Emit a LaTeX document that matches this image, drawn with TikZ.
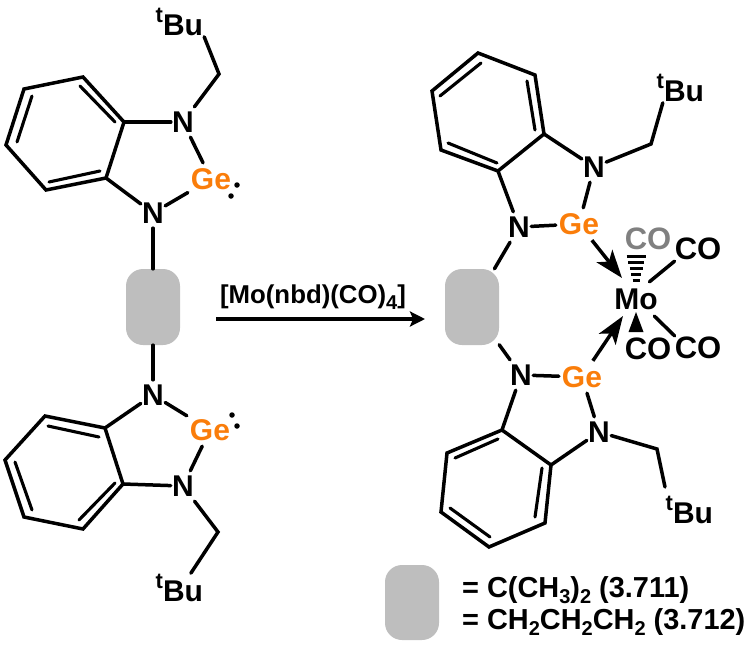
\documentclass[tikz,border=0pt]{standalone}
\usepackage{fontspec}
\setmainfont{Liberation Sans}
\usetikzlibrary{arrows.meta,calc}
\definecolor{geor}{HTML}{FA7D0A}
\definecolor{blob}{HTML}{BEBEBE}
\definecolor{cogr}{HTML}{808080}
\newcommand{\lowr}[1]{\raisebox{-0.22em}{\fontsize{20}{20}\selectfont #1}}
\newcommand{\tbu}{\llap{\raisebox{0.42em}{\fontsize{22}{22}\selectfont t}}Bu}
\tikzset{
  x=1pt,y=-1pt,
  bond/.style={line width=3.5pt,black,line cap=round,line join=miter},
  inner/.style={line width=3.1pt,black,line cap=round},
  dative/.style={line width=3.5pt,black,-{Stealth[length=28pt,width=20pt,inset=7pt]}},
  rxn/.style={line width=3.3pt,black,-{Stealth[length=15pt,width=15pt,inset=3pt]}},
  lab/.style={font=\bfseries\fontsize{30}{30}\selectfont,inner sep=0pt},
  natom/.style={lab,minimum width=24pt,minimum height=30pt},
  geatom/.style={lab,text=geor,minimum width=46pt,minimum height=32pt},
  bugrp/.style={lab,inner sep=1pt},
  colig/.style={lab,font=\bfseries\fontsize{31}{31}\selectfont,minimum width=46pt,minimum height=24pt},
  blobbox/.style={fill=blob,rounded corners=17pt,minimum width=54pt,minimum height=76pt,inner sep=0pt},
  txt/.style={font=\bfseries\fontsize{28.9}{29}\selectfont,inner sep=0pt,anchor=west},
  pair/.style={circle,fill=black,minimum size=5.5pt,inner sep=0pt},
  hash/.style={line width=3pt,black},
}
\begin{document}
\begin{tikzpicture}
\useasboundingbox (0,0) rectangle (750,645);
% ---------- left, upper unit
\node[bugrp] (buA) at (183,22) {\tbu};
\node[natom] (nA1) at (183,122) {N};
\node[geatom] (geA) at (211,179) {Ge};
\node[natom] (nA2) at (153,213) {N};
\node[blobbox] (blobA) at (153,307) {};
\node[pair] (dA1) at (237,185) {};
\node[pair] (dA2) at (231,196) {};
\coordinate (cA) at (219,74);
\coordinate (a1) at (124,122);
\coordinate (a2) at (83,77);
\coordinate (a3) at (24,89);
\coordinate (a4) at (6,145);
\coordinate (a5) at (46,190);
\coordinate (a6) at (106,178);
\coordinate (ai1) at (80,86);
\coordinate (ai2) at (115,122);
\coordinate (ai3) at (32,96);
\coordinate (ai4) at (17,142);
\coordinate (ai5) at (49,182);
\coordinate (ai6) at (100,171);
\draw[bond] (a1) -- (a2) -- (a3) -- (a4) -- (a5) -- (a6) -- cycle;
\draw[inner] (ai1) -- (ai2);
\draw[inner] (ai3) -- (ai4);
\draw[inner] (ai5) -- (ai6);
\draw[bond] (a1) -- (nA1);
\draw[bond] (a6) -- (nA2);
\draw[bond] (nA1) -- (geA);
\draw[bond] (nA2) -- (geA);
\draw[bond] (nA1) -- (cA) -- (buA.south east);
\draw[bond] (nA2) -- (blobA);
% ---------- left, lower unit
\node[natom] (nB1) at (153,395) {N};
\node[geatom] (geB) at (210,430) {Ge};
\node[natom] (nB2) at (183,486) {N};
\node[bugrp] (buB) at (183,588) {\tbu};
\node[pair] (dB1) at (232,415) {};
\node[pair] (dB2) at (237,426) {};
\coordinate (cB) at (218,532);
\coordinate (b1) at (105,428);
\coordinate (b2) at (45,416);
\coordinate (b3) at (5,460);
\coordinate (b4) at (24,517);
\coordinate (b5) at (83,529);
\coordinate (b6) at (123,484);
\coordinate (bi1) at (48,426);
\coordinate (bi2) at (99,437);
\coordinate (bi3) at (15,462);
\coordinate (bi4) at (32,510);
\coordinate (bi5) at (79,520);
\coordinate (bi6) at (115,483);
\draw[bond] (b1) -- (b2) -- (b3) -- (b4) -- (b5) -- (b6) -- cycle;
\draw[inner] (bi1) -- (bi2);
\draw[inner] (bi3) -- (bi4);
\draw[inner] (bi5) -- (bi6);
\draw[bond] (b1) -- (nB1);
\draw[bond] (b6) -- (nB2);
\draw[bond] (nB1) -- (geB);
\draw[bond] (nB2) -- (geB);
\draw[bond] (nB2) -- (cB) -- (buB.62);
\draw[bond] (blobA) -- (nB1);
% ---------- reaction arrow
\coordinate (rs) at (216,319);
\coordinate (re) at (425,319);
\draw[rxn] (rs) -- (re);
\node[font=\bfseries\fontsize{25.8}{27}\selectfont,inner sep=0pt] (rlab) at (313,297) {[Mo(nbd)(CO)\lowr{4}]};
% ---------- right, upper unit
\node[bugrp] (buC) at (684,88) {\tbu};
\node[natom] (nC1) at (594,167) {N};
\node[geatom] (geC) at (579,224) {Ge};
\node[natom] (nC2) at (519,227) {N};
\node[blobbox] (blobC) at (472,307) {};
\coordinate (cC) at (651,144);
\coordinate (c1) at (544,134);
\coordinate (c2) at (535,75);
\coordinate (c3) at (478,53);
\coordinate (c4) at (432,91);
\coordinate (c5) at (441,150);
\coordinate (c6) at (498,171);
\coordinate (ci1) at (527,81);
\coordinate (ci2) at (535,130);
\coordinate (ci3) at (448,143);
\coordinate (ci4) at (497,163);
\coordinate (ci5) at (440,96);
\coordinate (ci6) at (481,63);
\draw[bond] (c1) -- (c2) -- (c3) -- (c4) -- (c5) -- (c6) -- cycle;
\draw[inner] (ci1) -- (ci2);
\draw[inner] (ci3) -- (ci4);
\draw[inner] (ci5) -- (ci6);
\draw[bond] (c1) -- (nC1);
\draw[bond] (c6) -- (nC2);
\draw[bond] (nC1) -- (geC);
\draw[bond] (nC2) -- (geC);
\draw[bond] (nC1) -- (cC) -- (buC.south west);
\draw[bond] (nC2) -- (blobC);
% ---------- right, lower unit
\node[natom] (nD1) at (521,375) {N};
\node[geatom] (geD) at (582,377) {Ge};
\node[natom] (nD2) at (599,432) {N};
\node[bugrp] (buD) at (693,510) {\tbu};
\coordinate (cD) at (657,449);
\coordinate (eD) at (665,487);
\coordinate (d1) at (502,430);
\coordinate (d2) at (447,453);
\coordinate (d3) at (441,512);
\coordinate (d4) at (489,547);
\coordinate (d5) at (545,523);
\coordinate (d6) at (551,465);
\coordinate (di1) at (455,458);
\coordinate (di2) at (498,439);
\coordinate (di3) at (450,508);
\coordinate (di4) at (490,537);
\coordinate (di5) at (535,517);
\coordinate (di6) at (542,468);
\draw[bond] (d1) -- (d2) -- (d3) -- (d4) -- (d5) -- (d6) -- cycle;
\draw[inner] (di1) -- (di2);
\draw[inner] (di3) -- (di4);
\draw[inner] (di5) -- (di6);
\draw[bond] (d1) -- (nD1);
\draw[bond] (d6) -- (nD2);
\draw[bond] (nD1) -- (geD);
\draw[bond] (nD2) -- (geD);
\draw[bond] (nD2) -- (cD) -- (eD);
\draw[bond] (blobC) -- (nD1);
% ---------- molybdenum centre
\node[lab,minimum width=46pt,minimum height=34pt] (mo) at (636,299) {Mo};
\node[colig,text=cogr] (coA) at (648,239) {CO};
\node[colig] (coB) at (698,249) {CO};
\node[colig] (coC) at (648,349) {CO};
\node[colig] (coD) at (698,348) {CO};
\coordinate (tipC) at (622,278);
\coordinate (tipD) at (623,316);
\draw[dative] (geC) -- (tipC);
\draw[dative] (geD) -- (tipD);
\draw[bond] (mo.52) -- (coB.south west);
\draw[bond] (mo.-43) -- (coD.north west);
\coordinate (wt) at (636,312);
\coordinate (wl) at (628.5,332);
\coordinate (wr) at (643.5,332);
\fill[black] (wt) -- (wl) -- (wr) -- cycle;
\foreach \yy/\hw in {256/9.5,262/8,268/6.5,274/4.8,280/3.5}
  \draw[hash] (636-\hw,\yy) -- (636+\hw,\yy);
% ---------- legend
\node[blobbox,minimum height=75pt] (blobL) at (412,602.5) {};
\node[txt] (legA) at (462,590) {= C(CH\lowr{3})\lowr{2} (3.711)};
\node[txt] (legB) at (462,622) {= CH\lowr{2}CH\lowr{2}CH\lowr{2} (3.712)};
\end{tikzpicture}
\end{document}
